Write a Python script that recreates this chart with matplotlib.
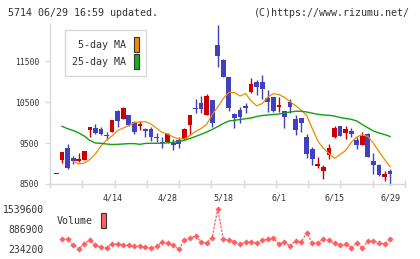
import numpy as np
import matplotlib.pyplot as plt
from matplotlib.patches import Patch

# daily candles, index 0 .. 60 (last one is 6/29)
opens = [8740, 9085, 9371, 9127, 9061, 9085, 9824, 9873, 9841, 9695,
         9776, 10280, 10085, 10190, 10020, 9915, 9834, 9834, 9654, 9524,
         9524, 9493, 9573, 9598, 9939, 10346, 10476, 10183, 10549, 11890,
         11524, 11102, 10207, 10305, 10402, 10744, 10995, 10988, 10605, 10614,
         10371, 10280, 10500, 10085, 10110, 9646, 9346, 8939, 8824, 9207,
         9646, 9915, 9744, 9793, 9573, 9451, 9720, 9061, 8963, 8671, 8817]
highs = [8740, 9280, 9476, 9190, 9263, 9305, 9890, 9963, 9883, 9776,
         10054, 10305, 10370, 10190, 10044, 10037, 9873, 9898, 9751, 9654,
         9751, 9590, 9654, 9873, 10183, 10566, 10646, 10695, 10549, 12378,
         11544, 11102, 10239, 10371, 10468, 11085, 11037, 11158, 10793, 10614,
         10615, 10280, 10573, 10183, 10110, 9720, 9395, 9159, 8963, 9476,
         9915, 9915, 9915, 9866, 9646, 9768, 9744, 9256, 8988, 8817, 8866]
lows = [8740, 9020, 8866, 8988, 9044, 9085, 9654, 9727, 9702, 9573,
        9776, 9898, 10085, 9915, 9712, 9817, 9639, 9556, 9524, 9371,
        9500, 9329, 9371, 9573, 9695, 10239, 10224, 10183, 9898, 11361,
        11102, 10288, 9873, 9995, 10224, 10712, 10671, 10573, 10264, 10264,
        10264, 9873, 10224, 9695, 9776, 9134, 8956, 8882, 8629, 9110,
        9622, 9671, 9598, 9646, 9354, 9451, 9159, 8744, 8695, 8573, 8476]
closes = [8740, 9280, 8898, 9061, 9110, 9305, 9890, 9751, 9720, 9663,
          10054, 10044, 10354, 9946, 9776, 9956, 9785, 9654, 9630, 9493,
          9720, 9459, 9476, 9849, 10183, 10322, 10322, 10646, 9995, 11629,
          11102, 10361, 10117, 10141, 10361, 10932, 10873, 10817, 10507, 10288,
          10427, 10141, 10371, 9817, 9988, 9239, 9102, 8988, 8915, 9378,
          9866, 9671, 9841, 9720, 9451, 9671, 9166, 8963, 8720, 8744, 8751]

ma5 = [np.nan] * 3 + [
    9054, 8988, 9012, 9098, 9237, 9427, 9573, 9671, 9805, 9866,
    9927, 10000, 10012, 10020, 9963, 9859, 9756, 9720, 9646, 9602,
    9598, 9683, 9780, 9854, 9951, 10195, 10378, 10585, 10732, 10732,
    10646, 10707, 10524, 10407, 10463, 10622, 10700, 10683, 10610, 10507,
    10415, 10298, 10171, 9854, 9549, 9371, 9244, 9127, 9220, 9317,
    9512, 9646, 9707, 9659, 9493, 9293, 9098, 8927]
ma25 = [np.nan] + [
    9907, 9849, 9805, 9744, 9671, 9561, 9500, 9493, 9476, 9463,
    9468, 9476, 9485, 9485, 9468, 9490, 9493, 9493, 9495, 9505,
    9517, 9537, 9566, 9610, 9659, 9712, 9768, 9829, 9902, 9976,
    10037, 10054, 10073, 10093, 10110, 10146, 10171, 10183, 10195, 10207,
    10232, 10256, 10273, 10276, 10256, 10227, 10200, 10183, 10176, 10159,
    10122, 10098, 10078, 10037, 9951, 9871, 9793, 9744, 9707, 9659]

volume = [np.nan,
          560000, 570000, 365000, 254000, 407000, 547000, 365000, 300000, 286000, 407000,
          407000, 365000, 365000, 342000, 332000, 309000, 267000, 332000, 463000, 430000,
          365000, 234000, 528000, 593000, 668000, 482000, 450000, 613000, 1550000, 560000,
          538000, 482000, 407000, 463000, 482000, 430000, 528000, 560000, 593000, 407000,
          463000, 342000, 505000, 463000, 776000, 430000, 450000, 560000, 528000, 430000,
          375000, 407000, 286000, 430000, 267000, 495000, 505000, 450000, 407000, 560000]

date_labels = ['4/14', '4/28', '5/18', '6/1', '6/15', '6/29']
date_pos = [10, 20, 30, 40, 50, 60]
price_ticks = [8500, 9500, 10500, 11500]
vol_ticks = [234200, 886900, 1539600]

RED = '#cc0000'
BLUE = '#4040c0'
ORANGE = '#f08a00'
GREEN = '#12a012'
GRID = '#d8d8d8'
TXT = '#333333'
MONO = 'DejaVu Sans Mono'

W, H = 420, 259
fig = plt.figure(figsize=(W / 100, H / 100), dpi=100)
fig.patch.set_facecolor('white')

x = np.arange(len(opens))
o = np.array(opens, float)
c = np.array(closes, float)
up = c >= o
colors = np.where(up, RED, BLUE)
xlim = (-1.17, 62.68)

ax = fig.add_axes([50 / W, (H - 184) / H, 355 / W, (184 - 24.4) / H])
ax.vlines(x, lows, highs, colors=colors, lw=1.0, zorder=2, clip_on=False)
bottom = np.minimum(o, c)
height = np.maximum(np.abs(c - o), 28)
ax.bar(x, height, bottom=bottom, width=0.85, color=colors, linewidth=0,
       zorder=3, clip_on=False)
ax.plot(x, ma5, color=ORANGE, lw=0.9, zorder=4)
ax.plot(x, ma25, color=GREEN, lw=1.0, zorder=4)

ax.set_xlim(*xlim)
ax.set_ylim(8500, 12393)
for s in ['top', 'right']:
    ax.spines[s].set_visible(False)
for s in ['left', 'bottom']:
    ax.spines[s].set_color(GRID)
    ax.spines[s].set_linewidth(1.0)
ax.set_yticks(price_ticks)
ax.set_yticklabels([str(v) for v in price_ticks], family=MONO, fontsize=5.8, color=TXT)
ax.tick_params(axis='y', direction='out', length=3.6, width=1.0, color=GRID, pad=4.2)
ax.set_xticks(np.linspace(xlim[0], xlim[1], 12))
ax.set_xticklabels([])
ax.tick_params(axis='x', which='major', direction='inout', length=6, width=1.0, color=GRID)
ax.set_xticks(date_pos, minor=True)
ax.set_xticklabels(date_labels, minor=True, family=MONO, fontsize=6, color=TXT)
ax.tick_params(axis='x', which='minor', length=0, pad=6.5)

leg = ax.legend([Patch(facecolor=ORANGE, edgecolor='#333333', lw=0.8),
                 Patch(facecolor='#18b018', edgecolor='#333333', lw=0.8)],
                ['5-day MA', '25-day MA'], markerfirst=False,
                loc='upper left', bbox_to_anchor=(0.042, 0.965), borderaxespad=0,
                prop={'family': MONO, 'size': 7.2}, handlelength=0.5, handleheight=1.93,
                handletextpad=0.8, labelspacing=0.2, borderpad=0.7,
                fancybox=False, framealpha=1, edgecolor=GRID)
leg.get_frame().set_linewidth(1.0)
for t in leg.get_texts():
    t.set_color(TXT)

# volume panel
ax2 = fig.add_axes([50 / W, 4 / H, 355 / W, 50 / H])
ax2.plot(x, volume, color='#ff6060', lw=0.9, ls=(0, (2, 1)), marker='D',
         markersize=3.2, markeredgewidth=0, clip_on=False)
ax2.set_xlim(*xlim)
ax2.set_ylim(48180, 1680000)
for s in ax2.spines.values():
    s.set_visible(False)
ax2.set_xticks([])
ax2.set_yticks(vol_ticks)
ax2.set_yticklabels([str(v) for v in vol_ticks], family=MONO, fontsize=7, color=TXT)
ax2.tick_params(axis='y', length=0, pad=4.3)
leg2 = ax2.legend([Patch(facecolor='#ff6060', edgecolor='#333333', lw=0.8)], ['Volume'],
                  markerfirst=False, loc='upper left', bbox_to_anchor=(0.02, 0.84),
                  borderaxespad=0, prop={'family': MONO, 'size': 7.2},
                  handlelength=0.5, handleheight=1.93, handletextpad=0.8,
                  borderpad=0, frameon=False)
for t in leg2.get_texts():
    t.set_color(TXT)

fig.text(8 / W, 1 - 13 / H, '5714 06/29 16:59 updated.', family=MONO, fontsize=7.2,
         color=TXT, ha='left', va='center')
fig.text(410 / W, 1 - 13 / H, '(C)https://www.rizumu.net/', family=MONO, fontsize=7.2,
         color=TXT, ha='right', va='center')

fig.savefig('out.png', dpi=100)
